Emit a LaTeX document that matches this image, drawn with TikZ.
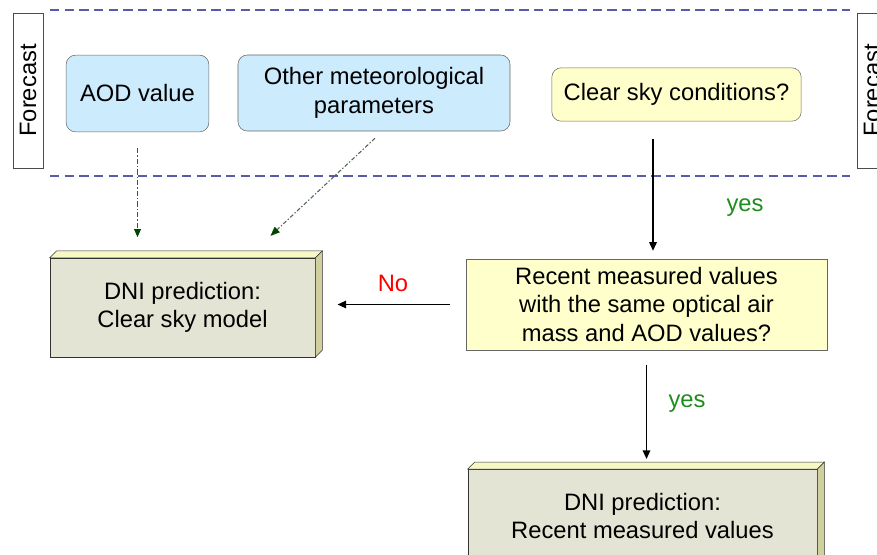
\documentclass[tikz,border=0pt]{standalone}
\usepackage{fontspec}
\setmainfont{Liberation Sans}
\usepackage{tikz}
\usetikzlibrary{positioning,calc,arrows.meta}

\definecolor{skyfill}{RGB}{204,236,253}
\definecolor{askfill}{RGB}{255,255,204}
\definecolor{dnifront}{RGB}{228,228,212}
\definecolor{dnitop}{RGB}{248,248,196}
\definecolor{dniside}{RGB}{208,208,158}
\definecolor{bandline}{RGB}{90,90,170}
\definecolor{yesgreen}{RGB}{30,140,30}
\definecolor{aodgreen}{RGB}{0,130,0}
\definecolor{metgray}{RGB}{80,100,80}
\definecolor{headgreen}{RGB}{0,70,0}

\tikzset{
  inputbox/.style={draw=black!60, fill=skyfill, rounded corners=7pt, align=center, inner sep=0pt},
  askbox/.style={draw=black!60, fill=askfill, align=center, inner sep=0pt},
  dnibox/.style={draw=black!80, fill=dnifront, align=center, inner sep=0pt},
  bandbox/.style={draw=black!70, fill=white, rotate=90, inner sep=0pt},
  flow/.style={line width=1.4pt, -{Triangle[length=6.5pt,width=5.5pt]}},
  aodflow/.style={aodgreen, line width=0.8pt, dash pattern=on 4pt off 1.5pt on 1pt off 1.5pt, -{Triangle[length=6pt,width=5pt,color=headgreen,fill=headgreen]}},
  metflow/.style={metgray, line width=0.8pt, dash pattern=on 3pt off 1.5pt on 1pt off 1.5pt, -{Triangle[length=7pt,width=5.5pt,color=headgreen,fill=headgreen]}},
}

\begin{document}
\begin{tikzpicture}[x=0.75pt,y=0.75pt,yscale=-1,xscale=1,font=\fontsize{17.8}{21.2}\selectfont]
\clip (0,0) rectangle (877,555);

% forecast band
\draw [bandline, line width=1pt, dash pattern=on 7pt off 4pt] (50,10) -- (850,10);
\draw [bandline, line width=1pt, dash pattern=on 7pt off 4pt] (50,176) -- (850,176);
\node [bandbox, minimum width=116pt, minimum height=22.5pt] (fcleft) at (28,90.5) {Forecast};
\node [bandbox, minimum width=116pt, minimum height=22.5pt] (fcright) at (872,90.5) {Forecast};

% inputs
\node [inputbox, minimum width=107pt, minimum height=57.5pt] (aod) at (137.5,93.5) {AOD value};
\node [inputbox, minimum width=204pt, minimum height=57pt] (other) at (374,93) {Other meteorological\\parameters};
\node [askbox, rounded corners=7pt, minimum width=187pt, minimum height=40pt] (clearsky) at (676.5,94.5) {Clear sky conditions?};

% question
\node [askbox, minimum width=271pt, minimum height=68pt] (recent) at (646.5,304.5) {Recent measured values\\with the same optical air\\mass and AOD values?};

% predictions
\node [dnibox, minimum width=199pt, minimum height=74pt] (dniclear) at (182.5,307.5) {DNI prediction:\\Clear sky model};
\draw [draw=black!80, fill=dnitop] (dniclear.north west) -- ++(7,-7) -- ($(dniclear.north east)+(7,-7)$) -- (dniclear.north east) -- cycle;
\draw [draw=black!80, fill=dniside] (dniclear.north east) -- ++(7,-7) -- ($(dniclear.south east)+(7,-7)$) -- (dniclear.south east) -- cycle;

\node [dnibox, minimum width=262pt, minimum height=70pt] (dnirecent) at (642.5,516) {DNI prediction:\\Recent measured values};
\draw [draw=black!80, fill=dnitop] (dnirecent.north west) -- ++(7,-7) -- ($(dnirecent.north east)+(7,-7)$) -- (dnirecent.north east) -- cycle;
\draw [draw=black!80, fill=dniside] (dnirecent.north east) -- ++(7,-7) -- ($(dnirecent.south east)+(7,-7)$) -- (dnirecent.south east) -- cycle;

% connectors
\coordinate (yesline) at (653,0);
\draw [flow, shorten <=13.5pt, shorten >=6pt] (clearsky.south -| yesline) -- (recent.north -| yesline);
\draw [flow, shorten <=12pt, shorten >=16.5pt] (recent.west) -- (recent.west -| dniclear.east);
\draw [flow, shorten <=11pt, shorten >=7.5pt] (recent.south) -- (recent.south |- dnirecent.north);
\draw [aodflow, shorten <=12pt, shorten >=15.5pt] (aod.south) -- (aod.south |- dniclear.north);
\draw [metflow] ($(other.south)+(1,7)$) -- ($(dniclear.north east)+(-45,-22)$);

% labels
\node [text=yesgreen] (lblyesa) at (745,208) {yes};
\node [text=red] (lblno) at (393,283) {No};
\node [text=yesgreen] (lblyesb) at (687,404) {yes};
\end{tikzpicture}
\end{document}
